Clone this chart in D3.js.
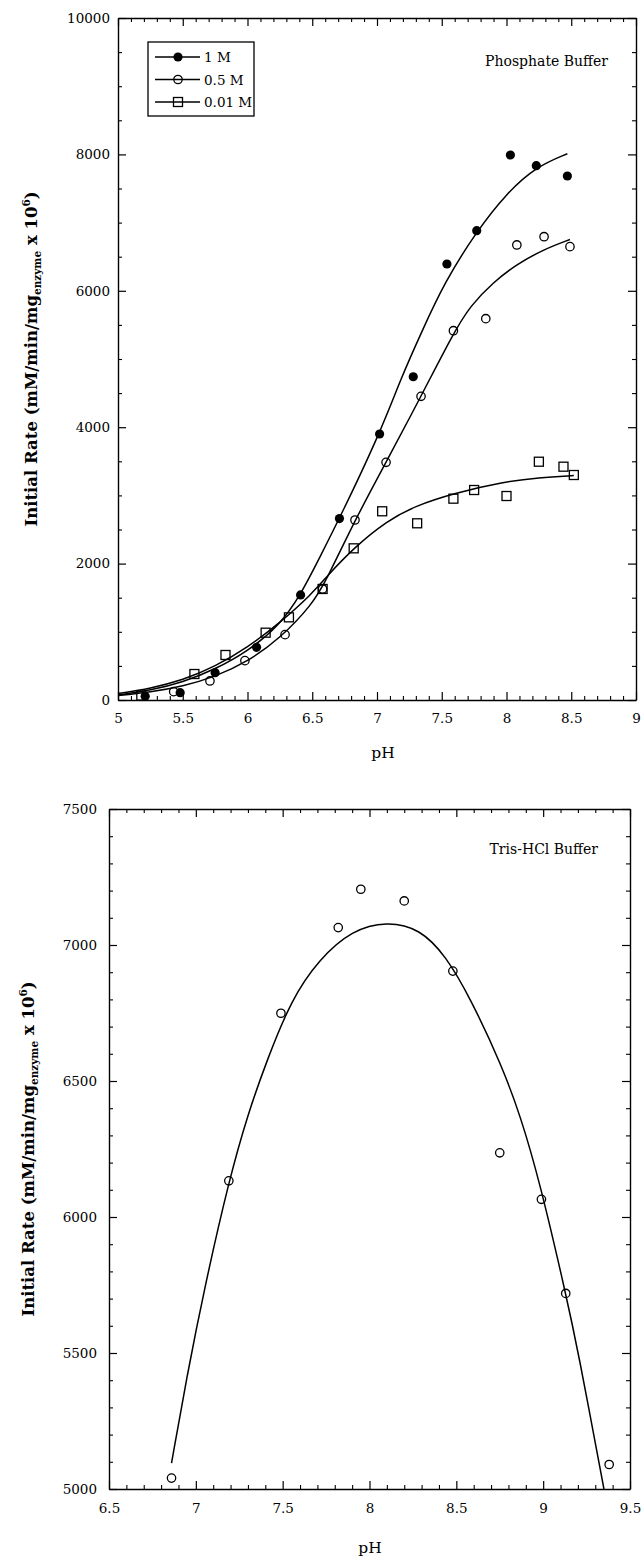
<!DOCTYPE html>
<html>
<head>
<meta charset="utf-8">
<script src="https://cdn.jsdelivr.net/npm/d3@7"></script>
<style>
  body { margin: 0; background: #fff; }
  svg text { font-family: "DejaVu Serif", serif; fill: #000; }
</style>
</head>
<body>
<svg id="chart" width="642" height="1556"></svg>
<script>
// ---- phosphate buffer (top panel) ----
var phosXTicks = [5, 5.5, 6, 6.5, 7, 7.5, 8, 8.5, 9];
var phosYTicks = [0, 2000, 4000, 6000, 8000, 10000];

// measured points [pH, rate]
var phos1M = [[5.21,55],[5.48,107],[5.75,400],[6.07,772],[6.41,1540],[6.71,2660],[7.02,3900],
  [7.28,4740],[7.54,6393],[7.77,6881],[8.03,7991],[8.23,7834],[8.47,7683]];
var phos05M = [[5.43,122],[5.71,279],[5.98,577],[6.29,958],[6.58,1628],[6.83,2639],[7.07,3485],
  [7.34,4453],[7.59,5415],[7.84,5591],[8.08,6672],[8.29,6793],[8.49,6647]];
var phos001M = [[5.18,65],[5.59,381],[5.83,660],[6.14,987],[6.32,1212],[6.58,1628],[6.82,2224],
  [7.04,2767],[7.31,2591],[7.59,2952],[7.75,3079],[8.00,2991],[8.25,3494],[8.44,3421],[8.52,3299]];

// fitted curves
var fit1M = [[5.0,75],[5.25,140],[5.5,260],[5.75,450],[6.0,710],[6.25,1100],[6.41,1540],[6.56,2100],
  [6.72,2700],[7.02,3900],[7.19,4741],[7.34,5377],[7.52,6120],[7.77,6875],[8.0,7430],[8.23,7821],[8.47,8010]];
var fit05M = [[5.0,65],[5.25,115],[5.5,200],[5.75,340],[6.0,560],[6.25,900],[6.5,1400],[6.61,1760],
  [6.83,2640],[7.07,3485],[7.34,4453],[7.59,5380],[7.72,5780],[7.9,6130],[8.08,6390],[8.29,6610],[8.49,6752]];
var fit001M = [[5.0,95],[5.25,170],[5.5,290],[5.75,490],[6.0,770],[6.25,1130],[6.5,1560],[6.61,1808],
  [6.82,2230],[7.08,2630],[7.3,2850],[7.59,3030],[7.98,3200],[8.25,3260],[8.52,3290]];

// ---- Tris-HCl buffer (bottom panel) ----
var trisXTicks = [6.5, 7, 7.5, 8, 8.5, 9, 9.5];
var trisYTicks = [5000, 5500, 6000, 6500, 7000, 7500];
var trisPoints = [[6.86,5040],[7.19,6133],[7.49,6749],[7.82,7064],[7.95,7205],[8.20,7162],
  [8.48,6904],[8.75,6236],[8.99,6065],[9.13,5719],[9.38,5090]];
var trisFit = [[6.86,5095],[6.95,5420],[7.05,5740],[7.19,6133],[7.3,6380],[7.41,6577],[7.55,6800],
  [7.71,6948],[7.9,7055],[8.1,7087],[8.29,7060],[8.44,6960],[8.58,6805],[8.76,6560],[8.87,6370],
  [8.98,6130],[9.13,5719],[9.2,5511],[9.35,5000]];

var svg = d3.select("#chart");

function marker(sel, kind, cx, cy) {
  if (kind == "filled") {
    sel.append("circle").attr("cx", cx).attr("cy", cy).attr("r", 4.6).attr("fill", "#000");
  } else if (kind == "open") {
    sel.append("circle").attr("cx", cx).attr("cy", cy).attr("r", 4.2)
      .attr("fill", "none").attr("stroke", "#000").attr("stroke-width", 1.3);
  } else {
    sel.append("rect").attr("x", cx - 4.5).attr("y", cy - 4.5).attr("width", 9).attr("height", 9)
      .attr("fill", "none").attr("stroke", "#000").attr("stroke-width", 1.3);
  }
}

function panel(o) {
  var x = d3.scaleLinear().domain(o.xd).range([o.left, o.right]);
  var y = d3.scaleLinear().domain(o.yd).range([o.bottom, o.top]);
  var g = svg.append("g");

  var fmt = function(d){ return String(d); };
  var styleAxis = function(a){
    a.attr("font-family", null).attr("font-size", null);
    a.selectAll("path.domain").attr("stroke-width", 1.4);
    a.selectAll(".tick line").attr("stroke-width", 1.2);
    a.selectAll("text").style("font-size", "13.5px");
  };

  // labelled axes, ticks pointing inward
  g.append("g").attr("transform", "translate(0," + o.bottom + ")")
    .call(d3.axisBottom(x).tickValues(o.xTicks).tickSize(-8).tickSizeOuter(0).tickPadding(o.xPad).tickFormat(fmt))
    .call(styleAxis);
  g.append("g").attr("transform", "translate(" + o.left + ",0)")
    .call(d3.axisLeft(y).tickValues(o.yTicks).tickSize(-8).tickSizeOuter(0).tickPadding(o.yPad).tickFormat(fmt))
    .call(styleAxis);
  g.append("g").attr("transform", "translate(0," + o.top + ")")
    .call(d3.axisTop(x).tickValues(o.xTicks).tickSize(-8).tickSizeOuter(0).tickFormat(""))
    .call(styleAxis);
  g.append("g").attr("transform", "translate(" + o.right + ",0)")
    .call(d3.axisRight(y).tickValues(o.yTicks).tickSize(-8).tickSizeOuter(0).tickFormat(""))
    .call(styleAxis);

  // minor ticks
  var xm = d3.range(o.xd[0], o.xd[1] + 1e-9, o.xMinor).filter(function(v){
    return o.xTicks.every(function(t){ return Math.abs(t - v) > 1e-6; }); });
  var ym = d3.range(o.yd[0], o.yd[1] + 1e-9, o.yMinor).filter(function(v){
    return o.yTicks.indexOf(v) < 0; });
  [[d3.axisBottom(x).tickValues(xm), "0," + o.bottom], [d3.axisTop(x).tickValues(xm), "0," + o.top],
   [d3.axisLeft(y).tickValues(ym), o.left + ",0"], [d3.axisRight(y).tickValues(ym), o.right + ",0"]]
    .forEach(function(p){
      var a = g.append("g").attr("transform", "translate(" + p[1] + ")")
        .call(p[0].tickSize(-4).tickSizeOuter(0).tickFormat(""));
      a.select("path.domain").remove();
      a.selectAll(".tick line").attr("stroke-width", 1.1);
    });

  // fitted curves
  var line = d3.line().x(function(d){ return x(d[0]); }).y(function(d){ return y(d[1]); })
    .curve(d3.curveBasis);
  o.series.forEach(function(s){
    g.append("path").attr("d", line(s.fit)).attr("fill", "none")
      .attr("stroke", "#000").attr("stroke-width", 1.5);
  });
  o.series.forEach(function(s){
    s.points.forEach(function(d){ marker(g, s.kind, x(d[0]), y(d[1])); });
  });

  // panel title
  g.append("text").attr("x", o.titleX).attr("y", o.titleY).attr("text-anchor", "end")
    .style("font-size", "14px").text(o.title);

  // axis titles
  g.append("text").attr("x", o.pHX).attr("y", o.pHY).attr("text-anchor", "middle")
    .style("font-size", "15.5px").text("pH");

  var cy = (o.top + o.bottom) / 2;
  var yl = g.append("text").attr("transform", "translate(" + o.ylX + "," + cy + ") rotate(-90)")
    .attr("text-anchor", "middle").style("font-weight", "bold").style("font-size", "16.5px");
  yl.append("tspan").text("Initial Rate (mM/min/mg");
  yl.append("tspan").attr("dy", 4).style("font-size", "10.5px").text("enzyme");
  yl.append("tspan").attr("dy", -4).text(" x 10");
  yl.append("tspan").attr("dy", -7).style("font-size", "10.5px").text("6");
  yl.append("tspan").attr("dy", 7).text(")");

  return g;
}

var phosPanel = panel({
  left: 118, right: 636, top: 18, bottom: 700,
  xd: [5, 9], yd: [0, 10000], xTicks: phosXTicks, yTicks: phosYTicks,
  xMinor: 0.1, yMinor: 500, xPad: 13, yPad: 8,
  title: "Phosphate Buffer", titleX: 608, titleY: 66,
  pHX: 383, pHY: 758, ylX: 37,
  series: [
    { kind: "filled", points: phos1M, fit: fit1M },
    { kind: "open", points: phos05M, fit: fit05M },
    { kind: "square", points: phos001M, fit: fit001M }
  ]
});

// legend
var legend = phosPanel.append("g");
legend.append("rect").attr("x", 148).attr("y", 42).attr("width", 106).attr("height", 74)
  .attr("fill", "#fff").attr("stroke", "#000").attr("stroke-width", 1.3);
var legendNames = ["1 M", "0.5 M", "0.01 M"];
var legendKinds = ["filled", "open", "square"];
legendNames.forEach(function(n, i){
  var ly = 57 + i * 22.5;
  legend.append("line").attr("x1", 155).attr("x2", 200).attr("y1", ly).attr("y2", ly)
    .attr("stroke", "#000").attr("stroke-width", 1.4);
  marker(legend, legendKinds[i], 178, ly);
  legend.append("text").attr("x", 204).attr("y", ly + 5).style("font-size", "13.5px").text(n);
});

panel({
  left: 109, right: 630, top: 809, bottom: 1489,
  xd: [6.5, 9.5], yd: [5000, 7500], xTicks: trisXTicks, yTicks: trisYTicks,
  xMinor: 0.1, yMinor: 100, xPad: 14, yPad: 12,
  title: "Tris-HCl Buffer", titleX: 598, titleY: 854,
  pHX: 370, pHY: 1553, ylX: 34,
  series: [ { kind: "open", points: trisPoints, fit: trisFit } ]
});
</script>
</body>
</html>
